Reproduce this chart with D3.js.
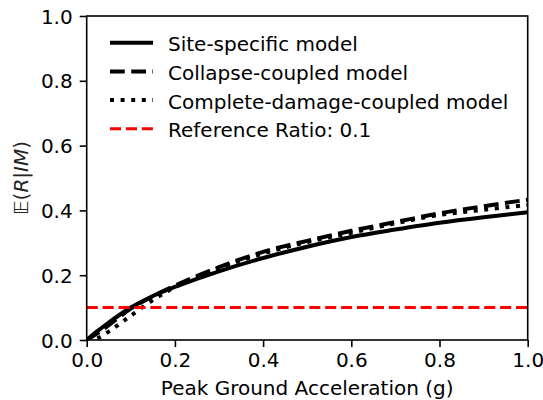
<!DOCTYPE html>
<html><head><meta charset="utf-8">
<script src="https://cdn.jsdelivr.net/npm/d3@7"></script>
<style>
html,body{margin:0;padding:0;background:#fff;}
svg{display:block;font-family:"DejaVu Sans",sans-serif;}
</style></head>
<body><svg id="c" width="543" height="400"></svg>
<script>
const pga = [0, 0.025, 0.05, 0.075, 0.1, 0.15, 0.2, 0.3, 0.4, 0.5, 0.6, 0.7, 0.8, 0.9, 1.0];
const siteSpecific = [0, 0.028, 0.054, 0.078, 0.1, 0.136, 0.164, 0.212, 0.253, 0.288, 0.318, 0.341, 0.362, 0.379, 0.394];
const collapseCoupled = [0, 0.021, 0.046, 0.072, 0.097, 0.135, 0.168, 0.225, 0.272, 0.306, 0.337, 0.364, 0.391, 0.413, 0.433];
const completeDamage = [0, 0.006, 0.026, 0.05, 0.075, 0.123, 0.163, 0.222, 0.267, 0.302, 0.331, 0.36, 0.386, 0.402, 0.417];
const referenceRatio = 0.1;
const xTicks = [0, 0.2, 0.4, 0.6, 0.8, 1.0];
const yTicks = [0, 0.2, 0.4, 0.6, 0.8, 1.0];
const seriesNames = ["Site-specific model", "Collapse-coupled model", "Complete-damage-coupled model", "Reference Ratio: 0.1"];

const svg = d3.select("#c");
const L = 86.7, R = 527.7, T = 16, B = 340;
const x = d3.scaleLinear().domain([0, 1]).range([L, R]);
const y = d3.scaleLinear().domain([0, 1]).range([B, T]);

const styles = [
  {color:"#000", w:4, dash:null},
  {color:"#000", w:4, dash:"14.8,6.4"},
  {color:"#000", w:4, dash:"4,6.6"},
  {color:"#ff0000", w:3, dash:"11.1,4.8"}
];

const g = svg.append("g");
svg.append("clipPath").attr("id","pc").append("rect")
  .attr("x", L).attr("y", T).attr("width", R-L).attr("height", B-T);
const plot = g.append("g").attr("clip-path","url(#pc)");

const line = d3.line().x((d,i)=>x(pga[i])).y(d=>y(d)).curve(d3.curveCatmullRom.alpha(0.5));
[siteSpecific, collapseCoupled, completeDamage].forEach((s,k)=>{
  plot.append("path").attr("d", line(s)).attr("fill","none")
    .attr("stroke", styles[k].color).attr("stroke-width", styles[k].w)
    .attr("stroke-dasharray", styles[k].dash).attr("stroke-linecap","butt");
});
plot.append("line").attr("x1", x(0)).attr("x2", x(1)).attr("y1", y(referenceRatio)).attr("y2", y(referenceRatio))
  .attr("stroke", styles[3].color).attr("stroke-width", styles[3].w).attr("stroke-dasharray", styles[3].dash);

// axes
const xAxis = d3.axisBottom(x).tickValues(xTicks).tickFormat(d3.format(".1f")).tickSize(7).tickPadding(6);
const yAxis = d3.axisLeft(y).tickValues(yTicks).tickFormat(d3.format(".1f")).tickSize(7).tickPadding(7);
const gx = g.append("g").attr("transform",`translate(0,${B})`).call(xAxis);
const gy = g.append("g").attr("transform",`translate(${L},0)`).call(yAxis);
[gx, gy].forEach(a=>{
  a.select(".domain").remove();
  a.selectAll(".tick line").attr("stroke","#000").attr("stroke-width",1.6);
  a.selectAll(".tick text").attr("font-size",20).attr("fill","#000").attr("font-family","DejaVu Sans");
});
gy.selectAll(".tick text").attr("dy","0.35em");
gx.selectAll(".tick text").attr("dy","0.71em");

// frame
g.append("rect").attr("x", L).attr("y", T).attr("width", R-L).attr("height", B-T)
  .attr("fill","none").attr("stroke","#000").attr("stroke-width",1.6);

// axis titles
g.append("text").attr("x", (L+R)/2).attr("y", 395).attr("text-anchor","middle")
  .attr("font-size",20).text("Peak Ground Acceleration (g)");
const yl = g.append("text").attr("transform",`translate(28,${(T+B)/2}) rotate(-90)`)
  .attr("text-anchor","middle").attr("font-size",20).attr("fill","#222");
yl.append("tspan").text("𝔼");
yl.append("tspan").text("(");
yl.append("tspan").attr("font-style","italic").text("R");
yl.append("tspan").text("|");
yl.append("tspan").attr("font-style","italic").text("IM");
yl.append("tspan").text(")");

// legend
const leg = g.append("g");
seriesNames.forEach((n,i)=>{
  const ly = 42.7 + i*28.7;
  leg.append("line").attr("x1",110).attr("x2",153).attr("y1",ly).attr("y2",ly)
    .attr("stroke", styles[i].color).attr("stroke-width", styles[i].w)
    .attr("stroke-dasharray", styles[i].dash);
  leg.append("text").attr("x",168).attr("y", ly+8.5).attr("font-size",20).text(n);
});
</script></body></html>
